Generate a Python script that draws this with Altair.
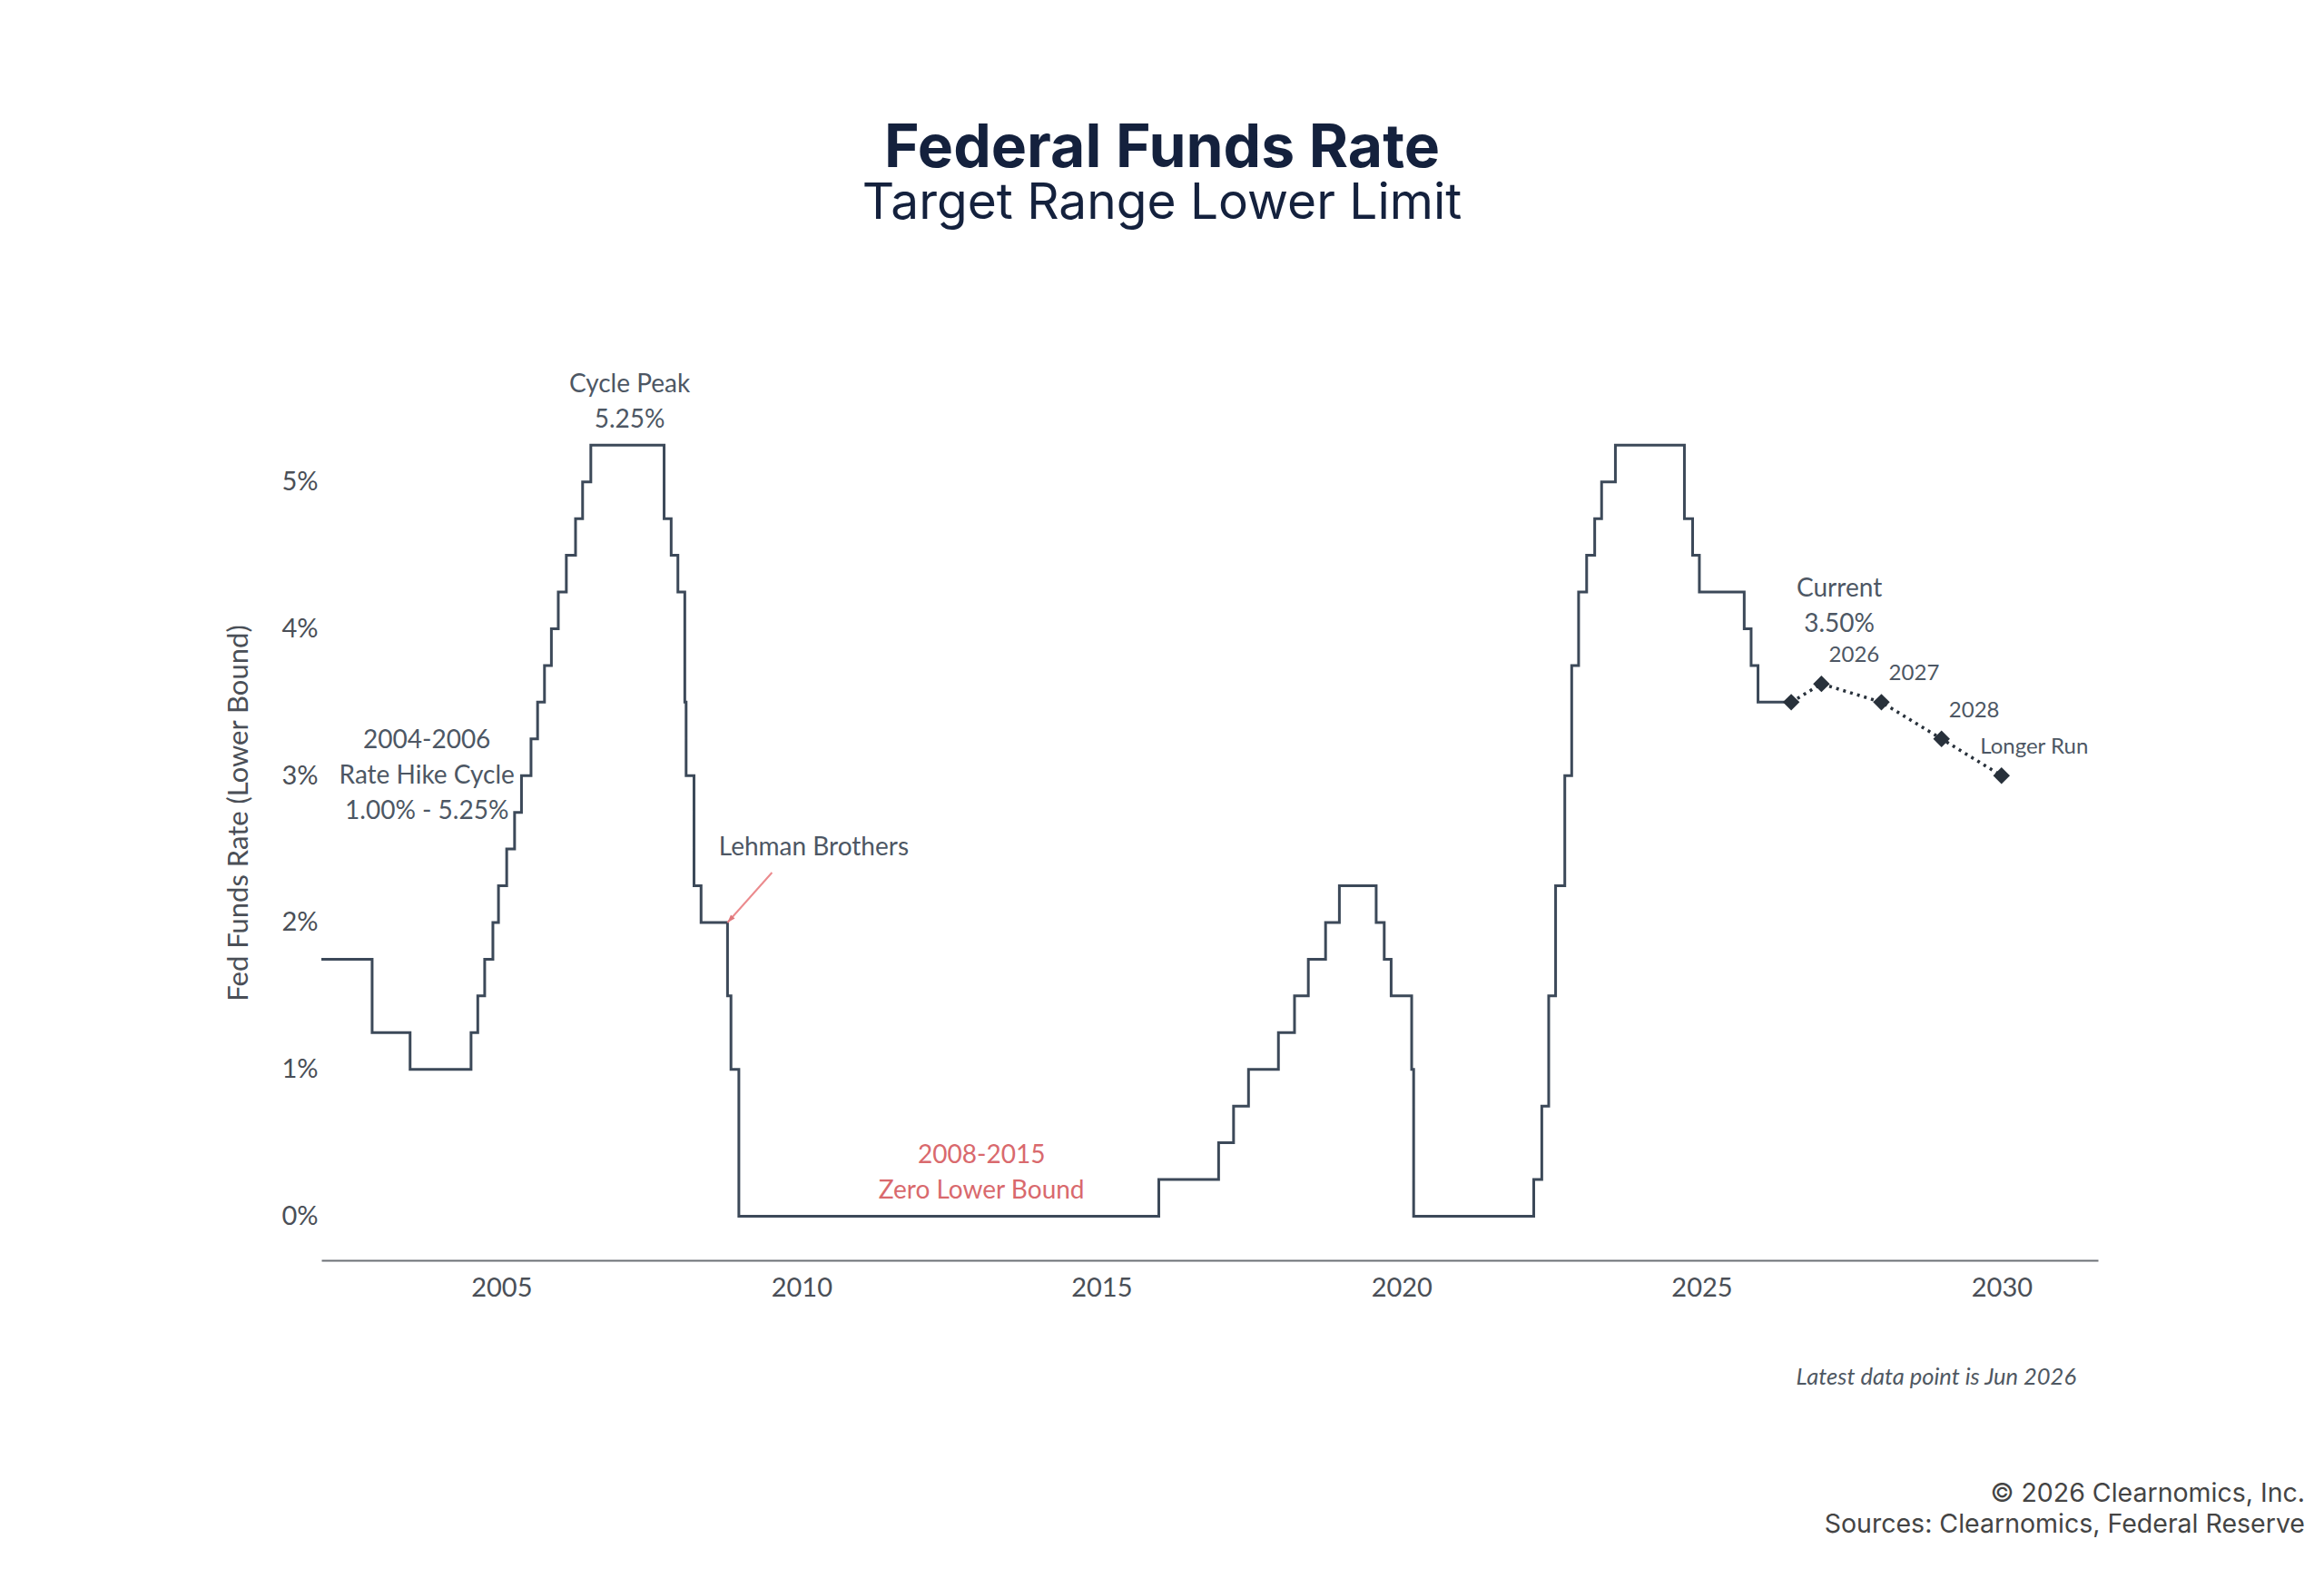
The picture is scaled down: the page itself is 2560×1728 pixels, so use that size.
import altair as alt
import pandas as pd

# FOMC target range, lower bound (%), dated at each policy change
change_dates = [
    "2002-01-01", "2002-11-06", "2003-06-25", "2004-06-30", "2004-08-10",
    "2004-09-21", "2004-11-10", "2004-12-14", "2005-02-02", "2005-03-22",
    "2005-05-03", "2005-06-30", "2005-08-09", "2005-09-20", "2005-11-01",
    "2005-12-13", "2006-01-31", "2006-03-28", "2006-05-10", "2006-06-29",
    "2007-09-18", "2007-10-31", "2007-12-11", "2008-01-22", "2008-01-30",
    "2008-03-18", "2008-04-30", "2008-10-08", "2008-10-29", "2008-12-16",
    "2015-12-16", "2016-12-14", "2017-03-15", "2017-06-14", "2017-12-13",
    "2018-03-21", "2018-06-13", "2018-09-26", "2018-12-19", "2019-07-31",
    "2019-09-18", "2019-10-30", "2020-03-03", "2020-03-15", "2022-03-16",
    "2022-05-04", "2022-06-15", "2022-07-27", "2022-09-21", "2022-11-02",
    "2022-12-14", "2023-02-01", "2023-03-22", "2023-05-03", "2023-07-26",
    "2024-09-18", "2024-11-07", "2024-12-18", "2025-09-17", "2025-10-29",
    "2025-12-10", "2026-06-30",
]
lower_bound = [
    1.75, 1.25, 1.00, 1.25, 1.50,
    1.75, 2.00, 2.25, 2.50, 2.75,
    3.00, 3.25, 3.50, 3.75, 4.00,
    4.25, 4.50, 4.75, 5.00, 5.25,
    4.75, 4.50, 4.25, 3.50, 3.00,
    2.25, 2.00, 1.50, 1.00, 0.00,
    0.25, 0.50, 0.75, 1.00, 1.25,
    1.50, 1.75, 2.00, 2.25, 2.00,
    1.75, 1.50, 1.00, 0.00, 0.25,
    0.75, 1.50, 2.25, 3.00, 3.75,
    4.25, 4.50, 4.75, 5.00, 5.25,
    4.75, 4.50, 4.25, 4.00, 3.75,
    3.50, 3.50,
]

# Current rate and the projected path
proj_dates = ["2026-06-30", "2026-12-31", "2027-12-31", "2028-12-31", "2029-12-31"]
proj_values = [3.50, 3.625, 3.50, 3.25, 3.00]
proj_labels = ["", "2026", "2027", "2028", "Longer Run"]

year_ticks = [2005, 2010, 2015, 2020, 2025, 2030]
pct_ticks = [0, 1, 2, 3, 4, 5]

rates = pd.DataFrame({"date": change_dates, "rate": lower_bound})
proj = pd.DataFrame({"date": proj_dates, "rate": proj_values, "label": proj_labels})

LINE = "#3c4959"
DOT = "#28313b"
NOTE = "#4d5764"
RED = "#d9696d"
AXIS_TXT = "#4a4f57"
BODY_FONT = "Lato"
HEAD_FONT = "Inter"
LH = 39

x_enc = alt.X(
    "date:T",
    scale=alt.Scale(
        type="utc",
        domain=[
            alt.DateTime(year=2002, month=1, date=1, utc=True),
            alt.DateTime(year=2031, month=8, date=10, utc=True),
        ],
    ),
    axis=alt.Axis(
        values=[alt.DateTime(year=y, month=1, date=1, utc=True) for y in year_ticks],
        format="%Y",
        title=None,
        grid=False,
        ticks=False,
        domain=True,
        domainColor="#6d7177",
        domainWidth=2,
        labelFont=BODY_FONT,
        labelFontSize=29,
        labelColor=AXIS_TXT,
        labelPadding=16,
    ),
)
y_enc = alt.Y(
    "rate:Q",
    scale=alt.Scale(domain=[-0.3, 6.0], nice=False, zero=False),
    axis=alt.Axis(
        values=pct_ticks,
        labelExpr="datum.value + '%'",
        title="Fed Funds Rate (Lower Bound)",
        grid=False,
        ticks=False,
        domain=False,
        labelFont=BODY_FONT,
        labelFontSize=29,
        labelColor=AXIS_TXT,
        labelPadding=4,
        titleFont=BODY_FONT,
        titleFontSize=31,
        titleFontWeight="normal",
        titleColor=AXIS_TXT,
        titlePadding=30,
        titleY=526,
    ),
)

step_line = alt.Chart(rates).mark_line(
    interpolate="step-after", color=LINE, strokeWidth=3
).encode(x=x_enc, y=y_enc)

proj_line = alt.Chart(proj).mark_line(
    color=DOT, strokeWidth=3.5, strokeDash=[3, 5]
).encode(x=x_enc, y=y_enc)

proj_points = alt.Chart(proj).mark_point(
    shape="diamond", filled=True, size=340, color=DOT, opacity=1
).encode(x=x_enc, y=y_enc)

proj_text = alt.Chart(proj).transform_filter("datum.label != ''").mark_text(
    font=BODY_FONT, fontSize=24, color=NOTE, dx=36, dy=-31, align="center", baseline="middle"
).encode(x=x_enc, y=y_enc, text="label:N")


def note(text, date, rate, dx, dy, color=NOTE, size=28):
    # dy places the first line; later lines follow at LH spacing
    df = pd.DataFrame({"date": [date], "rate": [rate], "text": [text]})
    return alt.Chart(df).mark_text(
        font=BODY_FONT, fontSize=size, color=color, dx=dx, dy=dy,
        align="center", baseline="middle", lineBreak="\n", lineHeight=LH,
    ).encode(x=x_enc, y=y_enc, text="text:N")


peak_note = note("Cycle Peak\n5.25%", "2007-02-20", 5.25, 0, -66)
hike_note = note("2004-2006\nRate Hike Cycle\n1.00% - 5.25%", "2003-10-05", 3.00, 0, -38)
lehman_note = note("Lehman Brothers", "2008-10-08", 2.00, 95, -82)
zlb_note = note("2008-2015\nZero Lower Bound", "2013-01-01", 0.00, 0, -66, color=RED)
current_note = note("Current\n3.50%", "2026-06-30", 3.50, 53, -124)

# Pointer from the Lehman label down to the October 2008 cut
lehman_pt = pd.DataFrame({"date": ["2008-10-08"], "rate": [2.00]})
lehman_arrow = alt.Chart(lehman_pt).mark_rule(
    color="#eb8a8d", strokeWidth=2, x2Offset=49, y2Offset=-55
).encode(x=x_enc, y=y_enc, x2="date:T", y2="rate:Q")
lehman_head = alt.Chart(lehman_pt).mark_point(
    shape="M0,0L-0.55,1.6L0.55,1.6Z", filled=True, size=120, angle=222,
    color="#e0777b", opacity=1
).encode(x=x_enc, y=y_enc)


def fixed_text(text, x, y, font, size, color, weight="normal", align="center",
               baseline="alphabetic", style="normal"):
    df = pd.DataFrame({"t": [text]})
    return alt.Chart(df).mark_text(
        font=font, fontSize=size, color=color, fontWeight=weight, align=align,
        baseline=baseline, fontStyle=style,
    ).encode(text="t:N", x=alt.value(x), y=alt.value(y))


title = fixed_text("Federal Funds Rate", 926, -185, HEAD_FONT, 66, "#14213d", weight="bold")
subtitle = fixed_text("Target Range Lower Limit", 926, -128, HEAD_FONT, 55, "#14213d")
latest = fixed_text("Latest data point is Jun 2026", 1933, 1148, BODY_FONT, 25.5, "#4f5862",
                    align="right", baseline="middle", style="italic")
copyright_line = fixed_text("\u00a9 2026 Clearnomics, Inc.", 2185, 1285, HEAD_FONT, 28.5,
                            "#444444", align="right")
sources_line = fixed_text("Sources: Clearnomics, Federal Reserve", 2185, 1319, HEAD_FONT, 28.5,
                          "#444444", align="right")

chart = alt.layer(
    step_line, proj_line, lehman_arrow, lehman_head, proj_points, proj_text,
    peak_note, hike_note, lehman_note, zlb_note, current_note,
    title, subtitle, latest, copyright_line, sources_line,
).properties(
    width=1957,
    height=1019,
    autosize=alt.AutoSizeParams(type="none"),
    padding={"left": 354, "top": 369, "right": 249, "bottom": 340},
    background="#ffffff",
).configure_view(stroke=None)

chart.save("out.html", embed_options={"renderer": "svg", "actions": False})
